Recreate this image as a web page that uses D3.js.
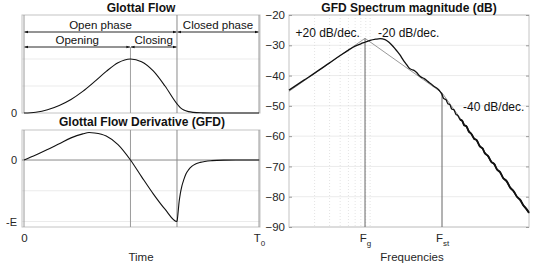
<!DOCTYPE html>
<html><head><meta charset="utf-8">
<script src="https://cdn.jsdelivr.net/npm/d3@7"></script>
<style>
body{margin:0;background:#fff;}
svg{display:block;font-family:"Liberation Sans",Arial,sans-serif;}
</style></head>
<body><svg id="c" width="540" height="265"></svg>
<script>
// ---- data ----
const flowT = [0,0.05,0.1,0.15,0.2,0.25,0.3,0.35,0.4,0.453,0.5,0.55,0.6,0.651,0.665,0.68,0.7,0.72,0.76,0.8,0.9,1.0];
const flowV = [0,0.015,0.06,0.14,0.25,0.40,0.58,0.77,0.93,1.0,0.95,0.78,0.50,0.17,0.10,0.055,0.025,0.012,0.003,0,0,0];
const gfdT = [0,0.05,0.1,0.15,0.2,0.25,0.277,0.3,0.35,0.4,0.453,0.5,0.55,0.6,0.651,0.655,0.66,0.665,0.672,0.68,0.69,0.7,0.715,0.73,0.75,0.8,0.85,0.9,1.0];
const gfdV = [0,0.08,0.17,0.265,0.36,0.425,0.448,0.44,0.39,0.25,0,-0.27,-0.55,-0.8,-1.0,-0.88,-0.68,-0.55,-0.42,-0.32,-0.22,-0.16,-0.1,-0.065,-0.038,-0.01,-0.002,0,0];
const phaseT = [0, 0.453, 0.651, 1];            // 0, Tp, Te, T0
const phaseNames = ["Open phase","Closed phase"];
const subPhaseNames = ["Opening","Closing"];
const timeTickVals = [0, 1];
const timeTickMain = ["0","T"];
const timeTickSub = ["","0"];

const specF = [1,1.5,2,3,4,5,6,7,7.84,9,10.5,11.8,13.5,15,16.7,18.5,20.2,22,24.2,26,27.7,29.5,31.7,34,36.3,39,41.7,44.5,47.5,51,55,59,63.1,66,70,74,78,82,87,92,97,103,109,115,122,130,140,150,162,175,190,200,220,240,260,280,305,330,365,400,440,480,525,570,620,666];
const specDb = [-44.8,-41.5,-39.2,-35.8,-33.4,-31.6,-30.3,-29.5,-29.0,-28.4,-28.0,-27.8,-28.1,-29.0,-30.3,-31.8,-33.2,-34.8,-36.4,-37.6,-38.0,-38.3,-39.0,-40.0,-40.6,-41.0,-41.6,-42.3,-42.9,-43.6,-44.2,-45.0,-46.2,-47.6,-47.9,-49.3,-49.6,-51.0,-51.3,-52.8,-53.2,-54.6,-54.9,-56.4,-56.7,-58.4,-59.3,-60.8,-61.4,-63.3,-64.1,-65.5,-66.6,-68.5,-69.2,-71.0,-71.9,-73.8,-74.9,-77.0,-78.2,-80.0,-81.0,-82.8,-84.0,-85.3];
const asymF = [1, 7.84, 63.1, 666];
const asymDb = [-45.2, -27.7, -45.7, -85.6];
const freqTickVals = [7.84, 63.1];
const freqTickMain = ["F","F"];
const freqTickSub = ["g","st"];
const dbTicks = [-90,-80,-70,-60,-50,-40,-30,-20];
const minorF = [2,3,4,5,6,7,8,9];
const slopeLabels = ["+20 dB/dec.","-20 dB/dec.","-40 dB/dec."];

// ---- setup ----
const svg = d3.select("#c");
const BOX = "#c4c4c4", GRID = "#ebebeb", TXT = "#262626";

const xT = d3.scaleLinear().domain([0,1]).range([24,259]);
const yF = d3.scaleLinear().domain([0,1.815]).range([113,15]);
const yG = d3.scaleLinear().domain([-1.089,0.488]).range([227,130]);
const xF = d3.scaleLog().domain([1,666]).range([289,529]);
const yD = d3.scaleLinear().domain([-90,-20]).range([227,15]);

const defs = svg.append("defs");
["s","e"].forEach(k=>{
  defs.append("marker").attr("id","ar"+k).attr("viewBox","0 0 10 10")
   .attr("refX",10).attr("refY",5).attr("markerWidth",4).attr("markerHeight",4)
   .attr("orient", k==="e" ? "auto" : "auto-start-reverse")
   .append("path").attr("d","M0,1.5L10,5L0,8.5Z").attr("fill","#111");
});

function hline(g,x1,x2,y,c,w){g.append("line").attr("x1",x1).attr("x2",x2).attr("y1",y).attr("y2",y).attr("stroke",c).attr("stroke-width",w||1);}
function vline(g,x,y1,y2,c,w,dash){const l=g.append("line").attr("x1",x).attr("x2",x).attr("y1",y1).attr("y2",y2).attr("stroke",c).attr("stroke-width",w||1); if(dash)l.attr("stroke-dasharray",dash);}

// ===== Top-left: Glottal Flow =====
const g1 = svg.append("g");
[0.5,1].forEach(v=>hline(g1,22,260,yF(v),GRID));
g1.append("rect").attr("x",22).attr("y",15).attr("width",238).attr("height",98).attr("fill","none").attr("stroke",BOX);
vline(g1,xT(phaseT[0]),15,113,"#9a9a9a");
vline(g1,xT(phaseT[1]),47,113,"#a0a0a0");
vline(g1,xT(phaseT[2]),15,113,"#8a8a8a");
vline(g1,xT(phaseT[3]),15,113,"#9a9a9a");
const arrows = [
  {a:phaseT[0],b:phaseT[2],y:32,t:phaseNames[0]},
  {a:phaseT[2],b:phaseT[3],y:32,t:phaseNames[1]},
  {a:phaseT[0],b:phaseT[1],y:47,t:subPhaseNames[0]},
  {a:phaseT[1],b:phaseT[2],y:47,t:subPhaseNames[1]}];
arrows.forEach(d=>{
  g1.append("line").attr("x1",xT(d.a)+0.5).attr("x2",xT(d.b)-0.5).attr("y1",d.y).attr("y2",d.y)
    .attr("stroke","#111").attr("stroke-width",0.9).attr("marker-start","url(#ars)").attr("marker-end","url(#are)");
  g1.append("text").attr("x",(xT(d.a)+xT(d.b))/2).attr("y",d.y-3).attr("text-anchor","middle")
    .attr("font-size",11.5).attr("fill","#111").text(d.t);
});
g1.append("path").datum(flowT.map((t,i)=>[t,flowV[i]]))
  .attr("d",d3.line().x(d=>xT(d[0])).y(d=>yF(d[1])).curve(d3.curveMonotoneX))
  .attr("fill","none").attr("stroke","#111").attr("stroke-width",1.1);
const ay1 = svg.append("g").attr("transform","translate(22,0)")
  .call(d3.axisLeft(yF).tickValues([0]).tickFormat(()=>"0").tickSize(0).tickPadding(5));
ay1.select(".domain").remove();
ay1.selectAll("text").attr("font-size",11).attr("fill",TXT).attr("font-family",null);
svg.append("text").attr("x",141).attr("y",12).attr("text-anchor","middle")
  .attr("font-size",12).attr("font-weight","bold").attr("fill","#111").text("Glottal Flow");

// ===== Bottom-left: GFD =====
const g2 = svg.append("g");
[-0.5,-1].forEach(v=>hline(g2,22,260,yG(v),GRID));
g2.append("rect").attr("x",22).attr("y",130).attr("width",238).attr("height",97).attr("fill","none").attr("stroke",BOX);
hline(g2,22,260,yG(0),"#8a8a8a");
phaseT.forEach((t,i)=>vline(g2,xT(t),130,227,i===2?"#8a8a8a":"#9a9a9a"));
g2.append("path").datum(gfdT.map((t,i)=>[t,gfdV[i]]))
  .attr("d",d3.line().x(d=>xT(d[0])).y(d=>yG(d[1])).curve(d3.curveMonotoneX))
  .attr("fill","none").attr("stroke","#111").attr("stroke-width",1.1);
const ay2 = svg.append("g").attr("transform","translate(22,0)")
  .call(d3.axisLeft(yG).tickValues([0,-1]).tickFormat(v=>v===0?"0":"-E").tickSize(0).tickPadding(5));
ay2.select(".domain").remove();
ay2.selectAll("text").attr("font-size",11).attr("fill",TXT).attr("font-family",null);
const ax2 = svg.append("g").attr("transform","translate(0,227)")
  .call(d3.axisBottom(xT).tickValues(timeTickVals).tickFormat("").tickSize(0));
ax2.select(".domain").remove();
ax2.selectAll(".tick").each(function(d,i){
  const t = d3.select(this).append("text").attr("y",15).attr("text-anchor","middle")
    .attr("font-size",11.5).attr("fill",TXT);
  t.append("tspan").text(timeTickMain[i]);
  if(timeTickSub[i]) t.append("tspan").attr("dy",4).attr("font-size",8).text(timeTickSub[i]);
});
svg.append("text").attr("x",142).attr("y",126).attr("text-anchor","middle")
  .attr("font-size",12).attr("font-weight","bold").attr("fill","#111").text("Glottal Flow Derivative (GFD)");
svg.append("text").attr("x",141).attr("y",261).attr("text-anchor","middle")
  .attr("font-size",11.5).attr("fill",TXT).text("Time");

// ===== Right: spectrum =====
const g3 = svg.append("g");
dbTicks.forEach(v=>hline(g3,289,529,yD(v),GRID));
minorF.forEach(f=>vline(g3,xF(f),15,227,"#d8d8d8",0.7,"1,2"));
g3.append("rect").attr("x",289).attr("y",15).attr("width",240).attr("height",212).attr("fill","none").attr("stroke",BOX);
vline(g3,xF(freqTickVals[0]),yD(asymDb[1]),227,"#666",1);
vline(g3,xF(freqTickVals[1]),yD(asymDb[2]),227,"#666",1);
g3.append("path").datum(asymF.map((f,i)=>[f,asymDb[i]]))
  .attr("d",d3.line().x(d=>xF(d[0])).y(d=>yD(d[1])))
  .attr("fill","none").attr("stroke","#8c8c8c").attr("stroke-width",0.9);
const specPts = specF.map((f,i)=>[f,specDb[i]]);
const specLine = d3.line().x(d=>xF(d[0])).y(d=>yD(d[1])).curve(d3.curveMonotoneX);
g3.append("path").datum(specPts).attr("d",specLine)
  .attr("fill","none").attr("stroke","#111").attr("stroke-width",1.3);
g3.append("path").datum(specPts.filter(d=>d[0]>=103)).attr("d",specLine)
  .attr("fill","none").attr("stroke","#111").attr("stroke-width",1.9);
const ay3 = svg.append("g").attr("transform","translate(289,0)")
  .call(d3.axisLeft(yD).tickValues(dbTicks).tickSizeInner(-3).tickSizeOuter(0).tickPadding(4));
ay3.select(".domain").remove();
ay3.selectAll("line").attr("stroke","#999");
ay3.selectAll("text").attr("font-size",11.5).attr("fill",TXT).attr("font-family",null);
const ay3r = svg.append("g").attr("transform","translate(529,0)")
  .call(d3.axisRight(yD).tickValues(dbTicks).tickSizeInner(-3).tickSizeOuter(0).tickFormat(""));
ay3r.select(".domain").remove();
ay3r.selectAll("line").attr("stroke","#999");
const ax3 = svg.append("g").attr("transform","translate(0,227)")
  .call(d3.axisBottom(xF).tickValues(freqTickVals).tickFormat("").tickSize(0));
ax3.select(".domain").remove();
ax3.selectAll(".tick").each(function(d,i){
  const t = d3.select(this).append("text").attr("y",15).attr("text-anchor","middle")
    .attr("font-size",11.5).attr("fill",TXT);
  t.append("tspan").text(freqTickMain[i]);
  t.append("tspan").attr("dy",4).attr("font-size",8).text(freqTickSub[i]);
});
svg.append("text").attr("x",409).attr("y",12).attr("text-anchor","middle")
  .attr("font-size",12).attr("font-weight","bold").attr("fill","#111").text("GFD Spectrum magnitude (dB)");
svg.append("text").attr("x",412).attr("y",261).attr("text-anchor","middle")
  .attr("font-size",11.5).attr("fill",TXT).text("Frequencies");
const slPos = [[295.5,37],[378,37],[463,111]];
slopeLabels.forEach((s,i)=>svg.append("text").attr("x",slPos[i][0]).attr("y",slPos[i][1])
  .attr("font-size",12).attr("fill","#111").text(s));
</script></body></html>
